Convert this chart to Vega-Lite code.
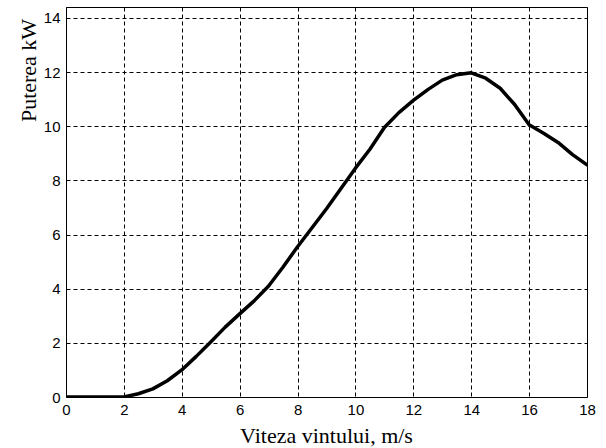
{
  "$schema": "https://vega.github.io/schema/vega-lite/v6.json",
  "width": 521,
  "height": 390,
  "autosize": {"type": "none"},
  "padding": {"left": 66, "top": 7, "right": 19, "bottom": 51},
  "background": "white",
  "config": {
    "view": {"stroke": "black", "strokeWidth": 1},
    "axis": {
      "grid": true,
      "gridColor": "black",
      "gridDash": [4, 3],
      "gridOpacity": 1,
      "gridWidth": 1,
      "domain": false,
      "ticks": false,
      "labelFont": "Liberation Sans",
      "labelFontSize": 15,
      "labelColor": "black",
      "titleFont": "Liberation Serif",
      "titleFontSize": 22,
      "titleFontWeight": "normal",
      "titleColor": "black"
    }
  },
  "data": {
    "values": [
      {"v": 0, "p": 0},
      {"v": 1, "p": 0},
      {"v": 2, "p": 0},
      {"v": 2.5, "p": 0.12},
      {"v": 3, "p": 0.3},
      {"v": 3.5, "p": 0.6},
      {"v": 4, "p": 1.0},
      {"v": 4.5, "p": 1.5},
      {"v": 5, "p": 2.03},
      {"v": 5.5, "p": 2.58},
      {"v": 6, "p": 3.07},
      {"v": 6.5, "p": 3.55},
      {"v": 7, "p": 4.1},
      {"v": 7.5, "p": 4.8},
      {"v": 8, "p": 5.55},
      {"v": 8.5, "p": 6.25},
      {"v": 9, "p": 6.95},
      {"v": 9.5, "p": 7.7},
      {"v": 10, "p": 8.45},
      {"v": 10.5, "p": 9.15},
      {"v": 11, "p": 9.95},
      {"v": 11.5, "p": 10.5},
      {"v": 12, "p": 10.95},
      {"v": 12.5, "p": 11.35},
      {"v": 13, "p": 11.7},
      {"v": 13.5, "p": 11.9},
      {"v": 14, "p": 11.97},
      {"v": 14.5, "p": 11.77},
      {"v": 15, "p": 11.4},
      {"v": 15.5, "p": 10.8},
      {"v": 16, "p": 10.05},
      {"v": 16.5, "p": 9.74},
      {"v": 17, "p": 9.4},
      {"v": 17.5, "p": 8.95},
      {"v": 18, "p": 8.57}
    ]
  },
  "mark": {"type": "line", "color": "black", "strokeWidth": 3.5, "strokeJoin": "round", "strokeCap": "round", "clip": true},
  "encoding": {
    "x": {
      "field": "v",
      "type": "quantitative",
      "scale": {"domain": [0, 18], "nice": false},
      "axis": {"values": [0, 2, 4, 6, 8, 10, 12, 14, 16, 18], "title": "Viteza vintului, m/s", "labelPadding": 5, "labelFlush": false, "titleBaseline": "alphabetic", "titleY": 45, "titleX": 260, "titleAlign": "center"}
    },
    "y": {
      "field": "p",
      "type": "quantitative",
      "scale": {"domain": [0, 14.4], "nice": false},
      "axis": {"values": [0, 2, 4, 6, 8, 10, 12, 14], "title": "Puterea kW", "labelPadding": 6, "labelFlush": false, "titleBaseline": "alphabetic", "titleX": -31, "titleY": 63, "titleAlign": "center", "titleAngle": -90}
    }
  }
}
